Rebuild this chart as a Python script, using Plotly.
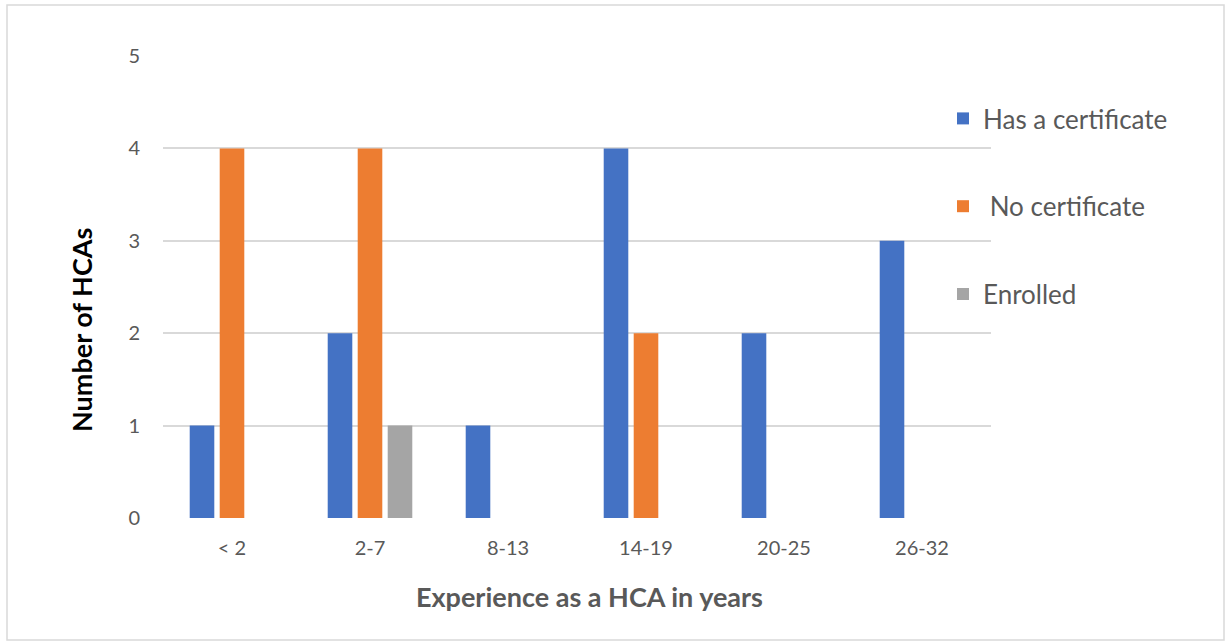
import plotly.graph_objects as go

# Experience bands and counts of HCAs per certificate status
categories = ["< 2", "2-7", "8-13", "14-19", "20-25", "26-32"]
has_certificate = [1, 2, 1, 4, 2, 3]
no_certificate = [4, 4, 0, 2, 0, 0]
enrolled = [0, 1, 0, 0, 0, 0]
y_ticks = [0, 1, 2, 3, 4, 5]

series = [
    ("Has a certificate", has_certificate, "#4472C4"),
    (" No certificate", no_certificate, "#ED7D31"),
    ("Enrolled", enrolled, "#A5A5A5"),
]

FONT = "Lato, 'Open Sans', sans-serif"
W, H = 1227, 643
L, R, T, B = 163, 236, 56, 125
pw, ph = W - L - R, H - T - B

fig = go.Figure()
for i, (name, vals, color) in enumerate(series):
    fig.add_trace(go.Bar(
        x=categories, y=vals, name=name, legendgroup=f"g{i}",
        marker=dict(color=color, line=dict(width=0)),
    ))


def px_x(p):
    return (p - L) / pw


def px_y(p):
    return (H - B - p) / ph


# light frame around the whole chart
fig.add_shape(type="rect", xref="paper", yref="paper",
              x0=px_x(7), x1=px_x(1224), y0=px_y(640), y1=px_y(5),
              line=dict(color="#D9D9D9", width=1.5), fillcolor="rgba(0,0,0,0)",
              layer="below")

# axis titles
fig.add_annotation(text="<b>Experience as a HCA in years</b>",
                   xref="paper", yref="paper", x=px_x(589), y=px_y(596),
                   xanchor="center", yanchor="middle", showarrow=False,
                   font=dict(size=27, color="#595959"))
fig.add_annotation(text="<b>Number of HCAs</b>", textangle=-90,
                   xref="paper", yref="paper", x=px_x(81), y=px_y(330),
                   xanchor="center", yanchor="middle", showarrow=False,
                   font=dict(size=27, color="#000000"))

fig.update_layout(
    width=W, height=H,
    margin=dict(l=L, r=R, t=T, b=B, autoexpand=False),
    plot_bgcolor="white", paper_bgcolor="white",
    font=dict(family=FONT, color="#595959", size=20),
    barmode="group", bargap=0.348, bargroupgap=0.18,
    showlegend=True,
    legend=dict(
        x=px_x(943), xanchor="left", y=px_y(95), yanchor="top",
        font=dict(size=26, color="#595959"),
        tracegroupgap=51, itemwidth=30,
        bgcolor="rgba(0,0,0,0)",
    ),
    xaxis=dict(
        showgrid=False, showline=False, zeroline=False,
        tickfont=dict(size=20, color="#595959"),
        ticklabelstandoff=16,
    ),
    yaxis=dict(
        range=[0, 5], tickvals=y_ticks,
        showgrid=True, gridcolor="#D9D9D9", gridwidth=1.5,
        zeroline=False, showline=False,
        tickfont=dict(size=20, color="#595959"),
        ticklabelstandoff=22,
    ),
)

fig.write_html("out.html")
